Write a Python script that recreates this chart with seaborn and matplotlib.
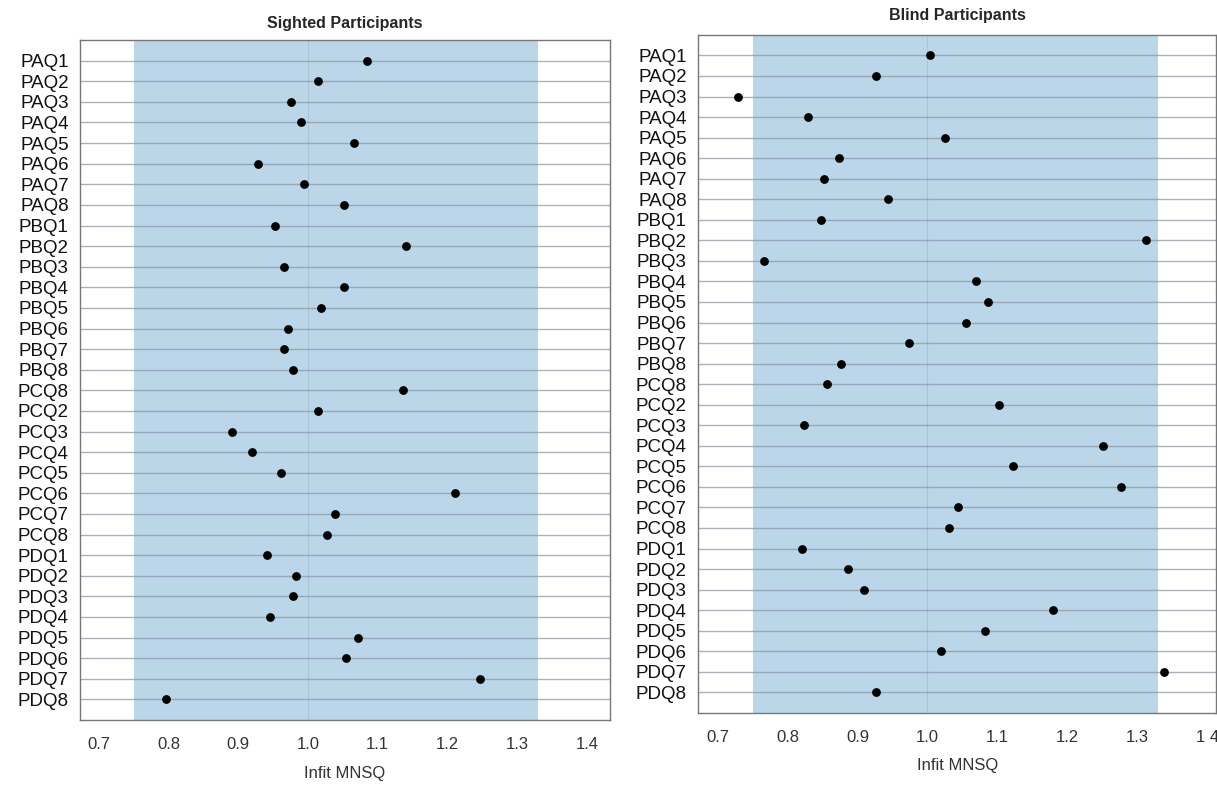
import matplotlib
matplotlib.use("Agg")
import matplotlib.pyplot as plt
import seaborn as sns
import numpy as np

# item labels (same order in both panels, PCQ8 appears twice in the original)
items = ["PAQ1", "PAQ2", "PAQ3", "PAQ4", "PAQ5", "PAQ6", "PAQ7", "PAQ8",
         "PBQ1", "PBQ2", "PBQ3", "PBQ4", "PBQ5", "PBQ6", "PBQ7", "PBQ8",
         "PCQ8", "PCQ2", "PCQ3", "PCQ4", "PCQ5", "PCQ6", "PCQ7", "PCQ8",
         "PDQ1", "PDQ2", "PDQ3", "PDQ4", "PDQ5", "PDQ6", "PDQ7", "PDQ8"]

sighted = [1.084, 1.014, 0.976, 0.990, 1.066, 0.928, 0.994, 1.051,
           0.953, 1.140, 0.965, 1.051, 1.019, 0.972, 0.965, 0.979,
           1.136, 1.015, 0.891, 0.919, 0.962, 1.211, 1.039, 1.027,
           0.941, 0.983, 0.979, 0.946, 1.071, 1.054, 1.247, 0.797]

blind = [1.003, 0.926, 0.729, 0.830, 1.025, 0.873, 0.852, 0.944,
         0.848, 1.313, 0.766, 1.069, 1.087, 1.055, 0.973, 0.876,
         0.857, 1.102, 0.824, 1.251, 1.123, 1.276, 1.043, 1.031,
         0.821, 0.886, 0.909, 1.179, 1.082, 1.019, 1.338, 0.927]

band = (0.75, 1.33)
xticks = [0.7, 0.8, 0.9, 1.0, 1.1, 1.2, 1.3, 1.4]
xticklabels_left = ["0.7", "0.8", "0.9", "1.0", "1.1", "1.2", "1.3", "1.4"]
xticklabels_right = ["0.7", "0.8", "0.9", "1.0", "1.1", "1.2", "1.3", "1 4"]

sns.set_style("white")
plt.rcParams['font.family'] = ['Liberation Sans', 'DejaVu Sans']

fig = plt.figure(figsize=(12.17, 7.86), dpi=100)
ax1 = fig.add_axes([0.0657, 0.084, 0.4355, 0.865])
ax2 = fig.add_axes([0.5735, 0.093, 0.426, 0.8626])

pos = np.arange(len(items))


def draw_panel(ax, vals, title, xlim, ticklabels, title_y):
    ax.axvspan(band[0], band[1], color="#bbd6e8", zorder=0, lw=0)
    ax.axvline(1.0, color="#a9c4d6", lw=0.8, zorder=1)
    for p in pos:
        ax.axhline(p, color="#8c98a3", lw=1.0, alpha=0.75, zorder=1)
    sns.scatterplot(x=vals, y=pos, ax=ax, color="black", s=40,
                    edgecolor="black", linewidth=0, zorder=3, legend=False)
    ax.set_xlim(*xlim)
    ax.set_ylim(32, -1)
    ax.set_yticks(pos)
    ax.set_yticklabels(items, fontsize=13.5, color="#111111")
    ax.set_xticks(xticks)
    ax.set_xticklabels(ticklabels, fontsize=12, color="#333333")
    ax.tick_params(axis="y", length=0, pad=8)
    ax.tick_params(axis="x", direction="out", length=4, color="#666666", pad=8)
    ax.set_xlabel("Infit MNSQ", fontsize=12, color="#333333", labelpad=10)
    ax.set_ylabel("")
    for s in ax.spines.values():
        s.set_color("#777777")
        s.set_linewidth(1.0)
    ax.set_title(title, fontsize=11.5, fontweight="bold", y=title_y)


draw_panel(ax1, sighted, "Sighted Participants", (0.673, 1.433),
           xticklabels_left, 1.005)
draw_panel(ax2, blind, "Blind Participants", (0.672, 1.413),
           xticklabels_right, 1.01)

fig.savefig("out.png", dpi=100)
